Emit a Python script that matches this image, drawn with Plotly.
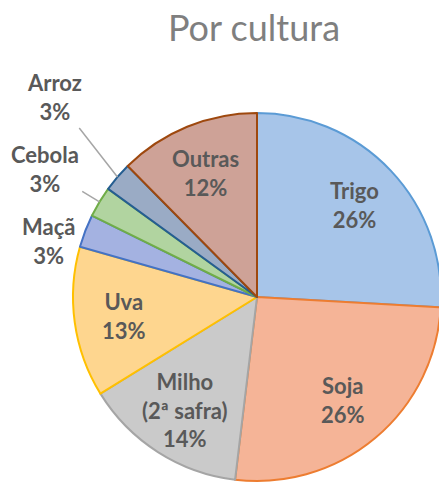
import math
import plotly.graph_objects as go

categories = ["Trigo", "Soja", "Milho (2ª safra)", "Uva", "Maçã", "Cebola", "Arroz", "Outras"]
display_labels = ["Trigo", "Soja", "Milho<br>(2ª safra)", "Uva", "Maçã", "Cebola", "Arroz", "Outras"]
values = [25.9, 26.0, 14.3, 13.2, 2.9, 2.7, 2.6, 12.4]

fill_colors = ["#a7c5e9", "#f5b497", "#cacaca", "#fed68f", "#a4b2e1", "#b1d4a0", "#9aabc5", "#cea297"]
line_colors = ["#5b9bd5", "#ed7d31", "#a5a5a5", "#ffc000", "#4472c4", "#70ad47", "#255e91", "#9e480e"]

W, H = 460, 500
DOM_X = [73 / W, 441 / W]
DOM_Y = [19 / H, 387 / H]
FONT = dict(family="Lato", size=22, color="#595959", weight="bold")
INSIDE_R = 0.73

fig = go.Figure(go.Pie(
    labels=categories,
    values=values,
    textinfo="none",
    sort=False,
    direction="clockwise",
    rotation=0,
    marker=dict(colors=fill_colors, line=dict(color=line_colors, width=2)),
    domain=dict(x=DOM_X, y=DOM_Y),
    showlegend=False,
    hoverinfo="skip",
))

# geometry of the pie as laid out by the domain above (pixels)
cx = (DOM_X[0] + DOM_X[1]) / 2 * W
cy = (1 - (DOM_Y[0] + DOM_Y[1]) / 2) * H
R = min(DOM_X[1] - DOM_X[0], (DOM_Y[1] - DOM_Y[0]) * H / W) * W / 2
total = sum(values)


def slice_point(i, r):
    cum = sum(values[:i]) + values[i] / 2
    theta = 2 * math.pi * cum / total
    return cx + r * R * math.sin(theta), cy - r * R * math.cos(theta)


def label_text(i):
    return f"{display_labels[i]}<br>{round(values[i] / total * 100)}%"


# outside labels for the small slices (label box centres in pixels)
outside = {"Maçã": (48, 241, False), "Cebola": (45, 169, True), "Arroz": (55, 97, True)}

for i, name in enumerate(categories):
    if name in outside:
        lx, ly, arrow = outside[name]
        if arrow:
            tx, ty = slice_point(i, 1.0)
            fig.add_annotation(
                x=tx / W, y=1 - ty / H, xref="paper", yref="paper",
                ax=lx - tx, ay=ly - ty, axref="pixel", ayref="pixel",
                text=label_text(i), showarrow=True, arrowhead=0, arrowwidth=1.5,
                arrowcolor="#a6a6a6", standoff=0, startstandoff=2,
                font=FONT, align="center",
            )
        else:
            fig.add_annotation(
                x=lx / W, y=1 - ly / H, xref="paper", yref="paper",
                xanchor="center", yanchor="middle",
                text=label_text(i), showarrow=False, font=FONT, align="center",
            )
    else:
        px, py = slice_point(i, INSIDE_R)
        fig.add_annotation(
            x=px / W, y=1 - py / H, xref="paper", yref="paper",
            xanchor="center", yanchor="middle",
            text=label_text(i), showarrow=False, font=FONT, align="center",
        )

fig.update_layout(
    width=W,
    height=H,
    margin=dict(l=0, r=0, t=0, b=0),
    paper_bgcolor="white",
    plot_bgcolor="white",
    title=dict(
        text="Por cultura",
        x=254 / W,
        xanchor="center",
        y=1 - 28 / H,
        yanchor="middle",
        font=dict(family="Lato", size=36, color="#7f7f7f"),
    ),
)

post = "document.body.style.margin='0';document.body.style.overflow='hidden';document.documentElement.style.overflow='hidden';"
fig.write_html("out.html", post_script=post, config={"displayModeBar": False})
